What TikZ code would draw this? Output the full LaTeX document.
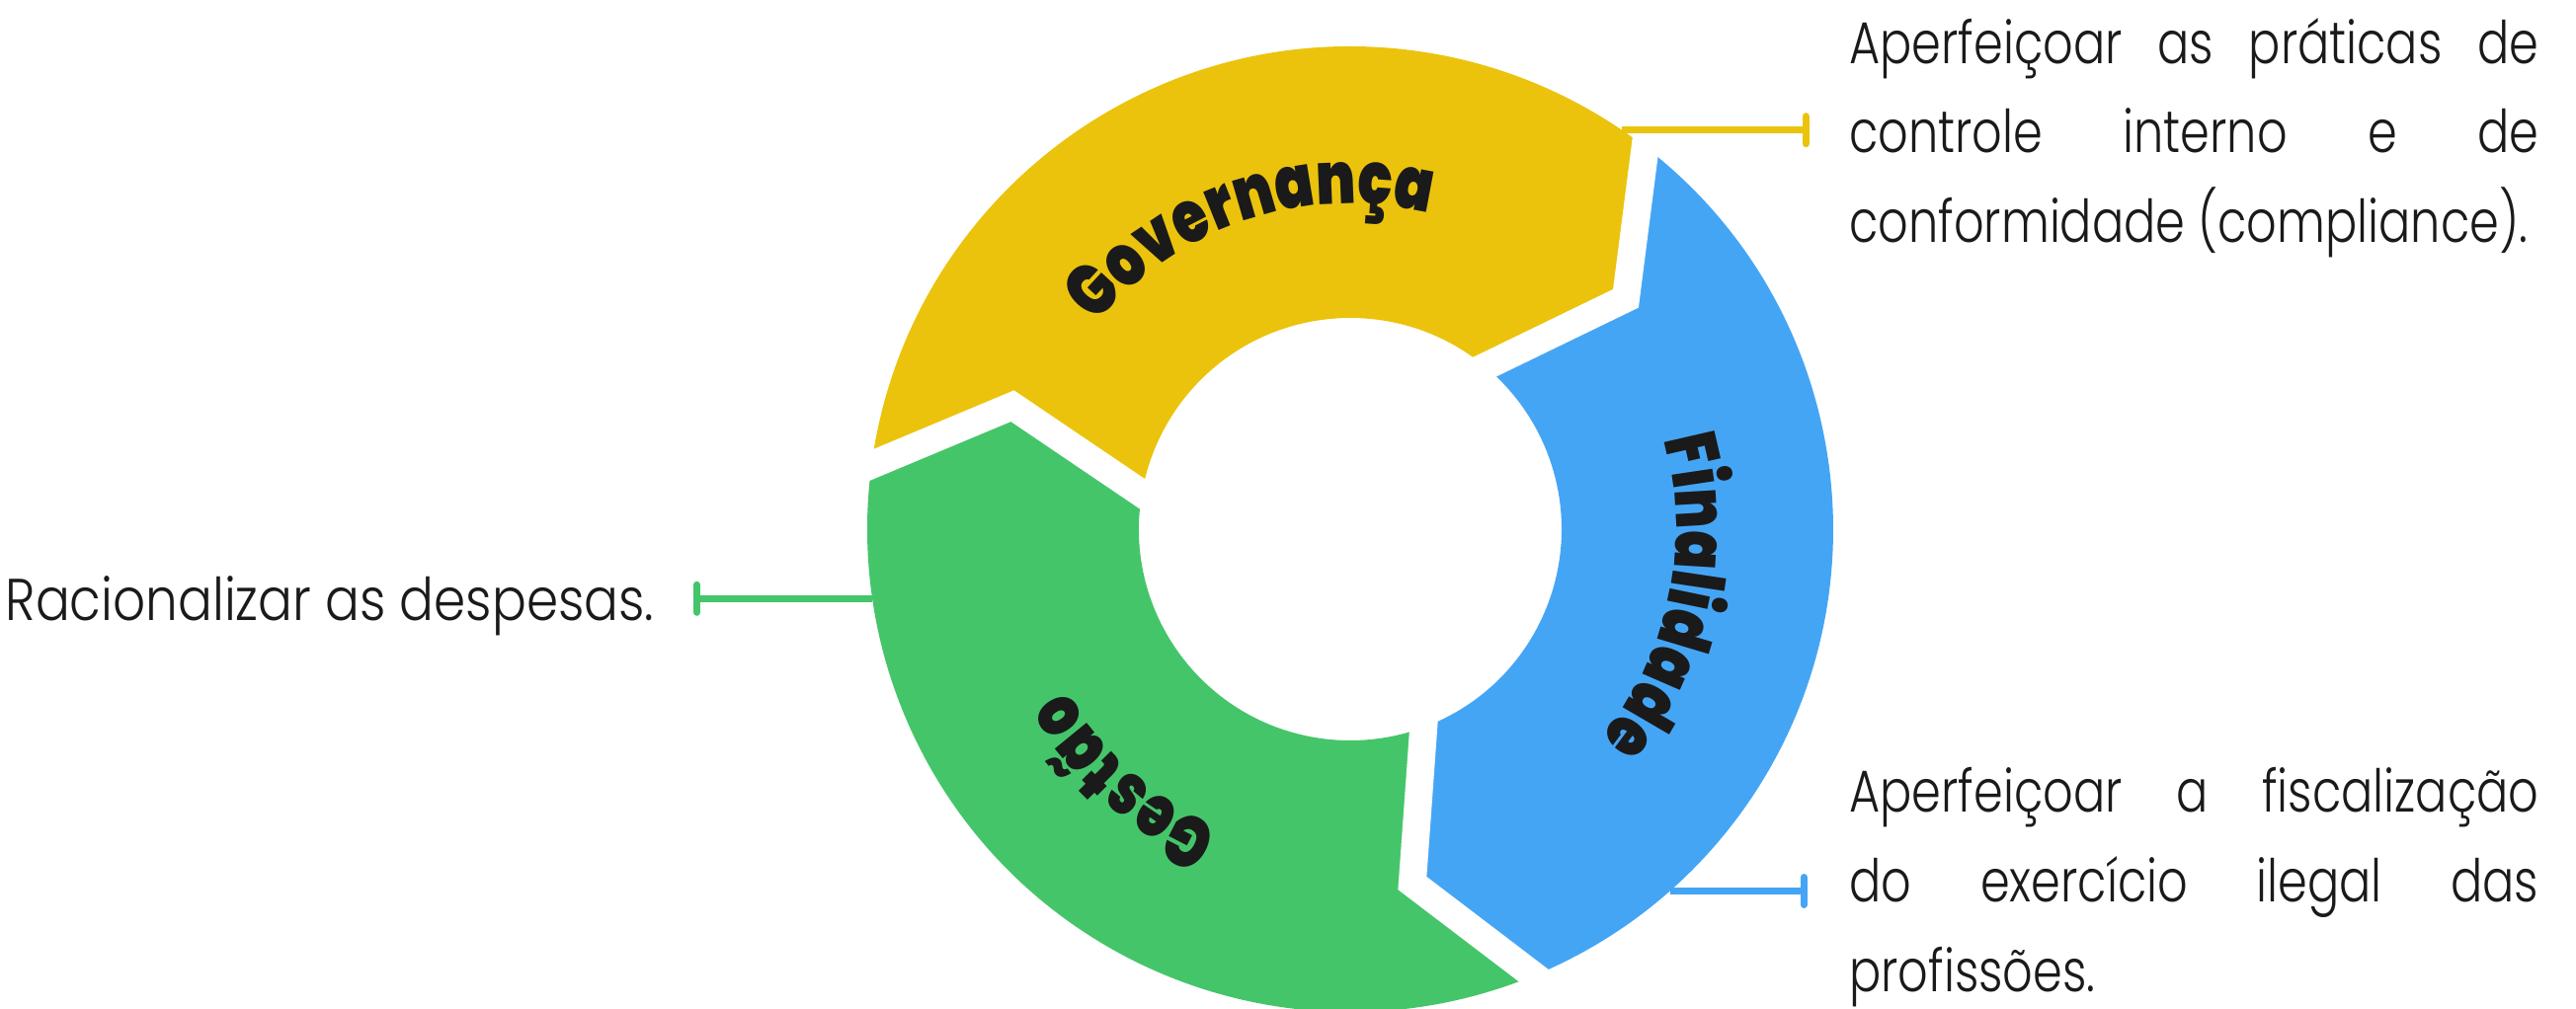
\documentclass[tikz,border=0pt]{standalone}
\usepackage{fontspec}
\setmainfont{Poppins Light}[FakeStretch=0.80]
\newfontfamily\widefont{Poppins Light}[FakeStretch=0.865]
\newfontfamily\heavyfont{Poppins Black}[FakeStretch=0.78]
\usetikzlibrary{arrows.meta,calc,decorations.text}
\definecolor{gov}{HTML}{EBC30C}
\definecolor{fin}{HTML}{45A5F5}
\definecolor{ges}{HTML}{45C56A}
\definecolor{ink}{HTML}{1A1A1A}
\hyphenpenalty=10000

\begin{document}
\begin{tikzpicture}[
  gapline/.style={white, line width=0.28cm, miter limit=20},
  leadline/.style={line width=0.07cm, -{Bar[width=0.28cm, line cap=round]}},
  notebox/.style={text width=6.98cm, align=justify, inner sep=0pt, text=ink,
    font=\fontsize{17}{25.8}\selectfont},
  ringlabel/.style={decorate, decoration={text along path, text align=center,
    text={|\heavyfont\fontsize{21}{21}\selectfont\color{ink}|#1}}}
]
\useasboundingbox (-13.67,-4.85) rectangle (12.41,5.36);
\fill[white] (-13.67,-4.85) rectangle (12.41,5.36);

\coordinate (gy-o) at (172.35:4.89);
\coordinate (gy-m) at (159.95:3.64);
\coordinate (gy-i) at (170.3:2.14);
\coordinate (yb-o) at (52.35:4.89);
\coordinate (yb-m) at (39.95:3.64);
\coordinate (yb-i) at (50.3:2.14);
\coordinate (bg-o) at (-67.65:4.89);
\coordinate (bg-m) at (-80.05:3.64);
\coordinate (bg-i) at (-69.7:2.14);

\fill[gov] (gy-o) arc[start angle=172.35, end angle=52.35, radius=4.89] -- (yb-m) -- (yb-i)
  arc[start angle=50.3, end angle=170.3, radius=2.14] -- (gy-m) -- cycle;
\fill[fin] (yb-o) arc[start angle=52.35, end angle=-67.65, radius=4.89] -- (bg-m) -- (bg-i)
  arc[start angle=-69.7, end angle=50.3, radius=2.14] -- (yb-m) -- cycle;
\fill[ges] (bg-o) arc[start angle=-67.65, end angle=-187.65, radius=4.89] -- (gy-m) -- (gy-i)
  arc[start angle=-189.7, end angle=-69.7, radius=2.14] -- (bg-m) -- cycle;

\draw[gapline] ($(gy-m)!1.3!(gy-o)$) -- (gy-m) -- ($(gy-m)!1.3!(gy-i)$);
\draw[gapline] ($(yb-m)!1.3!(yb-o)$) -- (yb-m) -- ($(yb-m)!1.3!(yb-i)$);
\draw[gapline] ($(bg-m)!1.3!(bg-o)$) -- (bg-m) -- ($(bg-m)!1.3!(bg-i)$);

\path[ringlabel=Governança] (148.5:3.30) arc[start angle=148.5, end angle=68.5, radius=3.30];
\path[ringlabel=Finalidade] (28:3.30) arc[start angle=28, end angle=-52, radius=3.30];
\path[ringlabel=Gestão] (268:3.30) arc[start angle=268, end angle=188, radius=3.30];

\node[notebox, anchor=base west] (govtxt) at (5.047,4.717)
  {Aperfeiçoar as práticas de\linebreak controle interno e de\linebreak conformidade (compliance).};
\node[notebox, anchor=base west] (fintxt) at (5.047,-2.867)
  {Aperfeiçoar a fiscalização\linebreak do exercício ilegal das\linebreak profissões.};
\node[anchor=base east, inner sep=0pt, text=ink, font=\widefont\fontsize{17}{25.8}\selectfont] (gestxt) at (-7.04,-0.923)
  {Racionalizar as despesas.};

\coordinate (govpt) at (2.751,4.043);
\coordinate (finpt) at (3.237,-3.665);
\coordinate (gespt) at (-4.839,-0.703);
\draw[leadline, gov] (govpt) -- ([xshift=-0.40cm]govpt -| govtxt.west);
\draw[leadline, fin] (finpt) -- ([xshift=-0.42cm]finpt -| fintxt.west);
\draw[leadline, ges] (gespt) -- ([xshift=0.39cm]gespt -| gestxt.east);
\end{tikzpicture}
\end{document}
